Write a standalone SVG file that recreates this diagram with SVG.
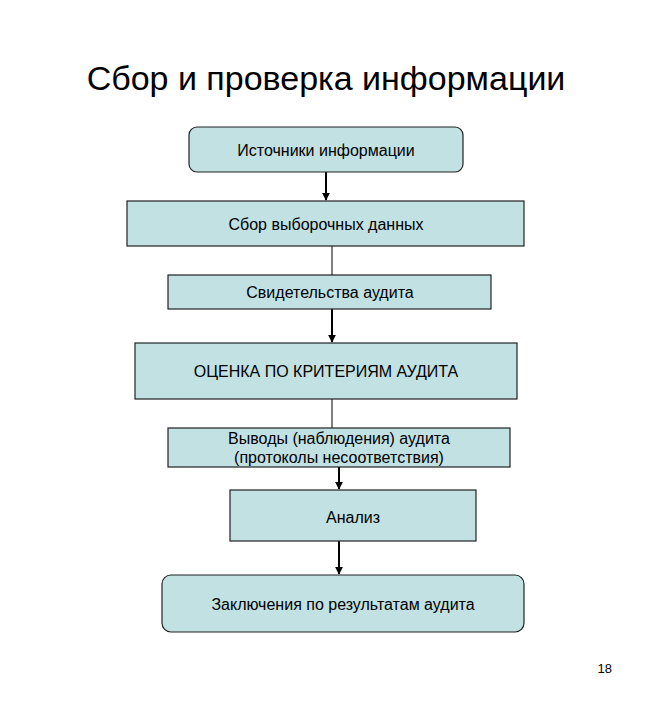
<svg xmlns="http://www.w3.org/2000/svg" width="652" height="720" viewBox="0 0 652 720">
<style>
.b{fill:#c1e1e3;stroke:#222;stroke-width:1.2}
.t{font-family:"Liberation Sans",Arial,sans-serif;font-size:16px;fill:#000;text-anchor:middle}
.c{stroke:#000;stroke-width:2;fill:none}
.thin{stroke:#000;stroke-width:1;fill:none}
</style>
<defs><marker id="a" viewBox="0 0 10 10" refX="9" refY="5" markerWidth="4" markerHeight="4" orient="auto"><path d="M0,0L10,5L0,10z" fill="#000"/></marker></defs>
<rect width="652" height="720" fill="#fff"/>
<text x="326" y="90" font-family="'Liberation Sans',Arial,sans-serif" font-size="34" text-anchor="middle">Сбор и проверка информации</text>
<g id="connectors">
<line class="c" x1="326" y1="172" x2="326" y2="200" marker-end="url(#a)"/>
<line class="thin" x1="332" y1="246" x2="332" y2="275"/>
<line class="c" x1="332" y1="309" x2="332" y2="342" marker-end="url(#a)"/>
<line class="thin" x1="332" y1="399" x2="332" y2="428"/>
<line class="c" x1="339" y1="467" x2="339" y2="489" marker-end="url(#a)"/>
<line class="c" x1="339" y1="541" x2="339" y2="574" marker-end="url(#a)"/>
</g>
<g id="n1"><rect class="b" x="189" y="127" width="274" height="45" rx="8"/><text class="t" x="326" y="156">Источники информации</text></g>
<g id="n2"><rect class="b" x="127" y="201" width="397" height="45"/><text class="t" x="326" y="230">Сбор выборочных данных</text></g>
<g id="n3"><rect class="b" x="168" y="275" width="323" height="34"/><text class="t" x="330" y="298">Свидетельства аудита</text></g>
<g id="n4"><rect class="b" x="135" y="343" width="382" height="56"/><text class="t" x="326" y="377">ОЦЕНКА ПО КРИТЕРИЯМ АУДИТА</text></g>
<g id="n5"><rect class="b" x="168" y="428" width="342" height="39"/><text class="t" x="339" y="444">Выводы (наблюдения) аудита</text><text class="t" x="339" y="463">(протоколы несоответствия)</text></g>
<g id="n6"><rect class="b" x="230" y="490" width="246" height="51"/><text class="t" x="353" y="523">Анализ</text></g>
<g id="n7"><rect class="b" x="162" y="575" width="362" height="57" rx="9"/><text class="t" x="343" y="610">Заключения по результатам аудита</text></g>
<text x="612" y="673" font-family="'Liberation Sans',Arial,sans-serif" font-size="13" text-anchor="end">18</text>
</svg>
